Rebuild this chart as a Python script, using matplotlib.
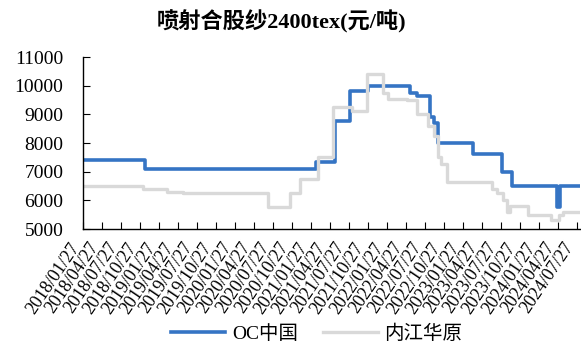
import matplotlib
matplotlib.use("Agg")
import matplotlib.pyplot as plt
import matplotlib.transforms as mtransforms
import pandas as pd

# ---- data ----
oc_dates = ["2018-01-27", "2018-11-21", "2021-02-19", "2021-05-21", "2021-08-01",
            "2021-10-27", "2022-05-17", "2022-06-19", "2022-08-21", "2022-09-09",
            "2022-09-28", "2023-03-15", "2023-08-02", "2023-09-19", "2024-04-22",
            "2024-05-08", "2024-08-12"]
oc_values = [7400, 7100, 7350, 8750, 9800,
             10000, 9750, 9650, 8900, 8700,
             8000, 7600, 7000, 6500, 5780,
             6500, 6500]

nj_dates = ["2018-01-27", "2018-11-11", "2019-03-07", "2019-05-22", "2020-07-04",
            "2020-10-18", "2020-12-05", "2021-03-01", "2021-05-12", "2021-08-11",
            "2021-10-22", "2022-01-07", "2022-01-31", "2022-05-02", "2022-06-19",
            "2022-08-11", "2022-09-09", "2022-09-28", "2022-10-13", "2022-11-10",
            "2023-06-15", "2023-07-09", "2023-08-07", "2023-08-26", "2023-09-09",
            "2023-12-05", "2024-03-24", "2024-05-02", "2024-05-21", "2024-08-12"]
nj_values = [6500, 6400, 6300, 6250, 5750,
             6250, 6750, 7500, 9250, 9100,
             10400, 9750, 9550, 9500, 9000,
             8600, 8250, 7500, 7250, 6650,
             6400, 6250, 6000, 5600, 5800,
             5500, 5300, 5500, 5600, 5600]

tick_dates = pd.date_range("2018-01-01", "2024-07-01", freq="3MS") + pd.Timedelta(days=26)
tick_labels = [d.strftime("%Y/%m/%d") for d in tick_dates]

series_names = ["OC中国", "内江华原"]
title = "喷射合股纱2400tex(元/吨)"

# ---- plot ----
fam = ["Liberation Serif", "Noto Sans CJK SC"]
plt.rcParams["font.family"] = fam

fig = plt.figure(figsize=(5.81, 3.42), dpi=100)
ax = fig.add_axes([83 / 581, 1 - 229 / 342, (580 - 83) / 581, (229 - 57) / 342])

ax.plot(pd.to_datetime(oc_dates), oc_values, drawstyle="steps-post",
        color="#3574C4", lw=2.6, label=series_names[0], solid_joinstyle="round")
ax.plot(pd.to_datetime(nj_dates), nj_values, drawstyle="steps-post",
        color="#D9D9D9", lw=2.4, label=series_names[1], solid_joinstyle="round")

ax.set_ylim(5000, 11000)
ax.set_yticks(range(5000, 11001, 1000))
ax.set_xlim(pd.Timestamp("2018-01-27"), pd.Timestamp("2024-08-12"))
ax.set_xticks(tick_dates)

for s in ["top", "right"]:
    ax.spines[s].set_visible(False)
for s in ["left", "bottom"]:
    ax.spines[s].set_color("black")
    ax.spines[s].set_linewidth(1.0)

ax.tick_params(axis="y", direction="in", length=5, labelsize=14, pad=14)
ax.tick_params(axis="x", direction="in", length=5, labelsize=13, pad=11)

ax.set_xticklabels(tick_labels, rotation=56, ha="right", va="center",
                   rotation_mode="anchor")
shift = mtransforms.ScaledTranslation(-7 / 100, 0, fig.dpi_scale_trans)
for lab in ax.get_xticklabels():
    lab.set_transform(lab.get_transform() + shift)

fig.text(282 / 581, 1 - 22 / 342, title, ha="center", va="center",
         fontsize=16, fontweight="bold", family=fam)

fig.legend(loc="center", bbox_to_anchor=(0.545, 0.025), ncol=2, frameon=False,
           prop={"family": fam, "size": 14}, handlelength=2.8,
           columnspacing=1.3, handletextpad=0.35)

fig.savefig("out.png", dpi=100)
